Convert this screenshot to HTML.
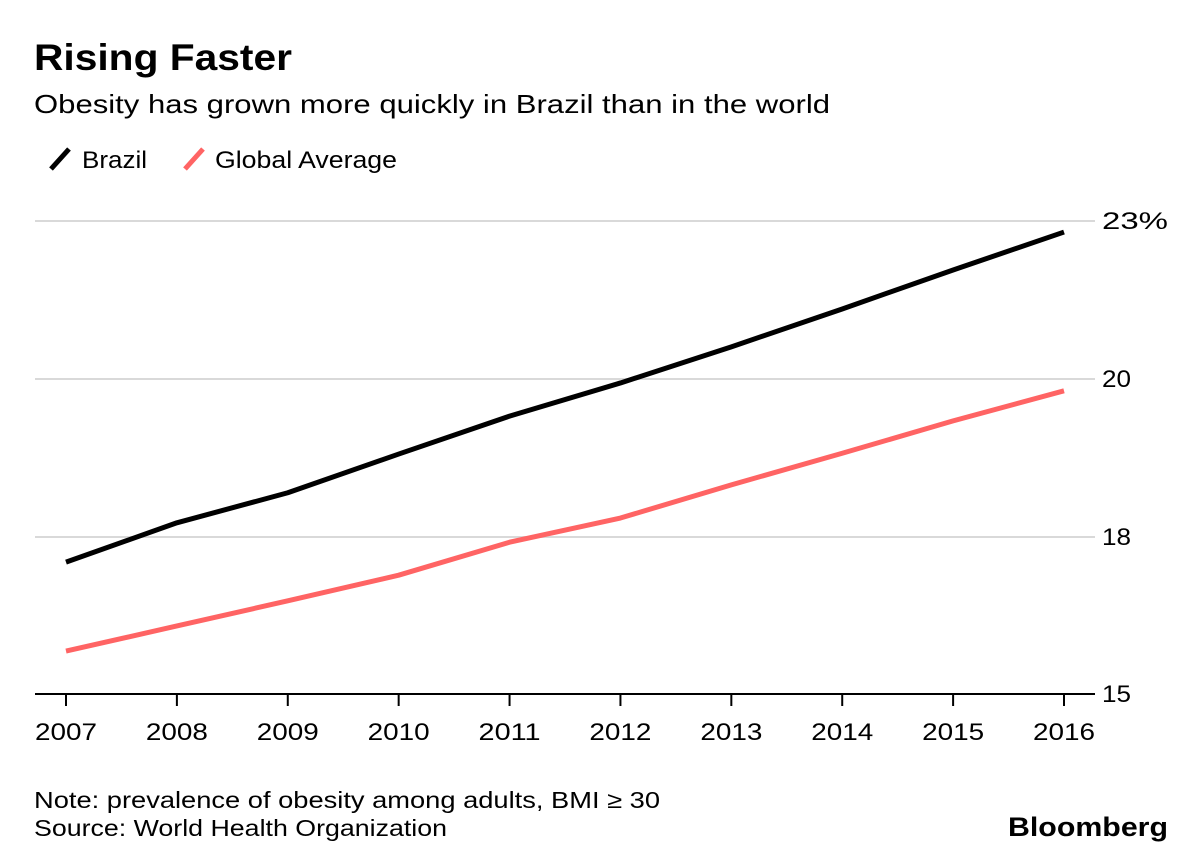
<!DOCTYPE html>
<html><head><meta charset="utf-8"><style>
body{margin:0;background:#fff;width:1200px;height:859px;overflow:hidden;font-family:"Liberation Sans",sans-serif;}
</style></head><body>
<svg width="1200" height="859">
<text x="34" y="70" font-size="37" font-weight="bold" fill="#000" textLength="258" lengthAdjust="spacingAndGlyphs">Rising Faster</text>
<text x="34" y="113" font-size="26" fill="#000" textLength="796" lengthAdjust="spacingAndGlyphs">Obesity has grown more quickly in Brazil than in the world</text>
<g><line x1="51" y1="169" x2="69" y2="149" stroke="#000" stroke-width="5"/><text x="82" y="168" font-size="24" textLength="65" lengthAdjust="spacingAndGlyphs">Brazil</text></g>
<g><line x1="185" y1="169" x2="203" y2="149" stroke="#ff6464" stroke-width="5"/><text x="215" y="168" font-size="24" textLength="182" lengthAdjust="spacingAndGlyphs">Global Average</text></g>
<g id="grid"></g><g id="axes"></g><g id="lines"></g>
<text x="34" y="808" font-size="23" textLength="626" lengthAdjust="spacingAndGlyphs">Note: prevalence of obesity among adults, BMI ≥ 30</text>
<text x="34" y="836" font-size="23" textLength="413" lengthAdjust="spacingAndGlyphs">Source: World Health Organization</text>
<text x="1008" y="836" font-size="27" font-weight="bold" textLength="160" lengthAdjust="spacingAndGlyphs">Bloomberg</text>
</svg>
<script>
const years=[2007,2008,2009,2010,2011,2012,2013,2014,2015,2016];
const brazil=[17.52,18.18,18.56,19.05,19.53,19.95,20.61,21.33,22.07,22.79];
const globalAvg=[15.82,16.30,16.78,17.27,17.90,18.24,18.66,19.06,19.47,19.85];
const yTicks=[15,18,20,23];
const yTickLabels=["15","18","20","23%"];
const NS="http://www.w3.org/2000/svg";
const tickPx=[694,537,379,221];
function y(v){for(let i=0;i<yTicks.length-1;i++){if(v<=yTicks[i+1]||i==yTicks.length-2){const t=(v-yTicks[i])/(yTicks[i+1]-yTicks[i]);return tickPx[i]+t*(tickPx[i+1]-tickPx[i]);}}}
function x(yr){return 66+(yr-2007)*(1064-66)/9;}
function mk(tag,attrs,parent){const e=document.createElementNS(NS,tag);for(const k in attrs)e.setAttribute(k,attrs[k]);document.getElementById(parent).appendChild(e);return e;}
yTicks.forEach((v,i)=>{
 if(i>0){const g=mk('line',{x1:35,x2:1095,y1:y(v),y2:y(v),stroke:'#d9d9d9','stroke-width':2},'grid');
 
 }
 const lab=yTickLabels[i];
 const t=mk('text',{x:1102,y:y(v)+8,'font-size':24,textLength:lab.length==3?66:29,lengthAdjust:'spacingAndGlyphs'},'axes');t.textContent=lab;
 
 
});
const ax=mk('line',{x1:35,x2:1095,y1:694,y2:694,stroke:'#000','stroke-width':2},'axes');


years.forEach(yr=>{
 const tk=mk('line',{x1:x(yr),x2:x(yr),y1:694,y2:706,stroke:'#000','stroke-width':2},'axes');
 
 
 const t=mk('text',{x:x(yr)-31,y:740,'font-size':24,textLength:62,lengthAdjust:'spacingAndGlyphs'},'axes');t.textContent=yr;
 
 
});
function line(vals,color,name){
 const p=mk('polyline',{points:vals.map((v,i)=>x(years[i])+','+y(v)).join(' '),fill:'none',stroke:color,'stroke-width':5,'stroke-linejoin':'round'},'lines');
 
 
}
line(globalAvg,'#ff6464','global-average-line');
line(brazil,'#000','brazil-line');
</script>
</body></html>
